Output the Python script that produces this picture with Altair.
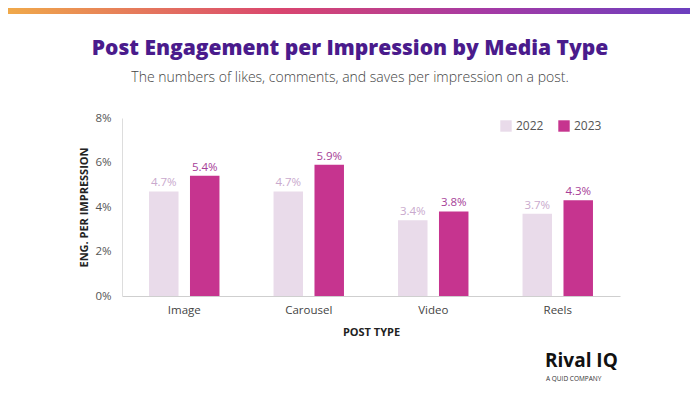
import altair as alt
import pandas as pd

categories = ["Image", "Carousel", "Video", "Reels"]
years = ["2022", "2023"]
values_2022 = [0.047, 0.047, 0.034, 0.037]
values_2023 = [0.054, 0.059, 0.038, 0.043]
y_ticks = [0, 0.02, 0.04, 0.06, 0.08]

rows = []
for c, v in zip(categories, values_2022):
    rows.append({"type": c, "year": "2022", "value": v})
for c, v in zip(categories, values_2023):
    rows.append({"type": c, "year": "2023", "value": v})
df = pd.DataFrame(rows)

FONT = "Open Sans"
bar_colors = ["#e9dbea", "#c6348f"]
label_colors = ["#c9a9cd", "#a63e98"]

x_enc = alt.X("type:N", sort=categories,
              scale=alt.Scale(paddingInner=0, paddingOuter=0),
              axis=alt.Axis(title="POST TYPE", labelAngle=0, ticks=False,
                            domainColor="#cfcfcf", labelColor="#444",
                            labelFont=FONT, labelFontSize=11.5, labelPadding=8,
                            titleFont=FONT, titleFontSize=11, titleFontWeight="bold",
                            titleColor="#222", titlePadding=11))
xoff = alt.XOffset("year:N", scale=alt.Scale(paddingInner=0.28, paddingOuter=0.66))
y_enc = alt.Y("value:Q", scale=alt.Scale(domain=[0, 0.08]),
              axis=alt.Axis(title="ENG. PER IMPRESSION", format=".0%", values=y_ticks,
                            grid=False, ticks=False, domainColor="#dddddd",
                            labelColor="#555", labelFont=FONT, labelFontSize=11.5,
                            labelPadding=11,
                            titleFont=FONT, titleFontSize=11, titleFontWeight="bold",
                            titleColor="#222", titlePadding=5))

bars = alt.Chart(df).mark_bar().encode(
    x=x_enc, xOffset=xoff, y=y_enc,
    color=alt.Color("year:N", scale=alt.Scale(domain=years, range=bar_colors),
                    legend=alt.Legend(title=None, orient="none", direction="horizontal",
                                      legendX=378, legendY=2, symbolType="square",
                                      symbolSize=130, symbolStrokeWidth=0,
                                      labelFont=FONT, labelFontSize=12,
                                      labelColor="#555", columnPadding=14)),
)

labels = alt.Chart(df).mark_text(dy=-8, font=FONT, fontSize=11.5).encode(
    x=alt.X("type:N", sort=categories), xOffset=alt.XOffset("year:N"),
    y="value:Q",
    text=alt.Text("value:Q", format=".1%"),
    color=alt.Color("year:N", scale=alt.Scale(domain=years, range=label_colors), legend=None),
)

anno = pd.DataFrame({"k": [0]})
grad = alt.Chart(anno).mark_rect(
    color=alt.LinearGradient(gradient="linear", x1=0, x2=1, y1=0, y2=0, stops=[
        alt.GradientStop(color="#f0a94a", offset=0),
        alt.GradientStop(color="#d9456f", offset=0.4),
        alt.GradientStop(color="#a53aa5", offset=0.7),
        alt.GradientStop(color="#6b3fbf", offset=1)])
).encode(x=alt.value(-114), x2=alt.value(570), y=alt.value(-110), y2=alt.value(-104))

title = alt.Chart(anno).mark_text(
    text="Post Engagement per Impression by Media Type", font=FONT, fontSize=21,
    fontWeight=800, color="#4a1b8c", align="center", baseline="middle"
).encode(x=alt.value(228), y=alt.value(-69))

subtitle = alt.Chart(anno).mark_text(
    text="The numbers of likes, comments, and saves per impression on a post.",
    font=FONT, fontSize=14, fontWeight=300, color="#444", align="center", baseline="middle"
).encode(x=alt.value(228), y=alt.value(-40))

logo = alt.Chart(anno).mark_text(
    text="Rival IQ", font=FONT, fontSize=19, fontWeight="bold", color="#111",
    align="left", baseline="middle"
).encode(x=alt.value(423), y=alt.value(243))

logo_sub = alt.Chart(anno).mark_text(
    text="A QUID COMPANY", font=FONT, fontSize=6.5, color="#333",
    align="left", baseline="middle"
).encode(x=alt.value(424), y=alt.value(261))

chart = alt.layer(grad, title, subtitle, bars, labels, logo, logo_sub).properties(
    width=498, height=178,
    padding={"left": 114, "top": 110, "right": 70, "bottom": 88},
    autosize=alt.AutoSizeParams(type="none"),
).configure_view(stroke=None).resolve_scale(color="independent")

chart.save("out.html", embed_options={"renderer": "svg", "actions": False})
